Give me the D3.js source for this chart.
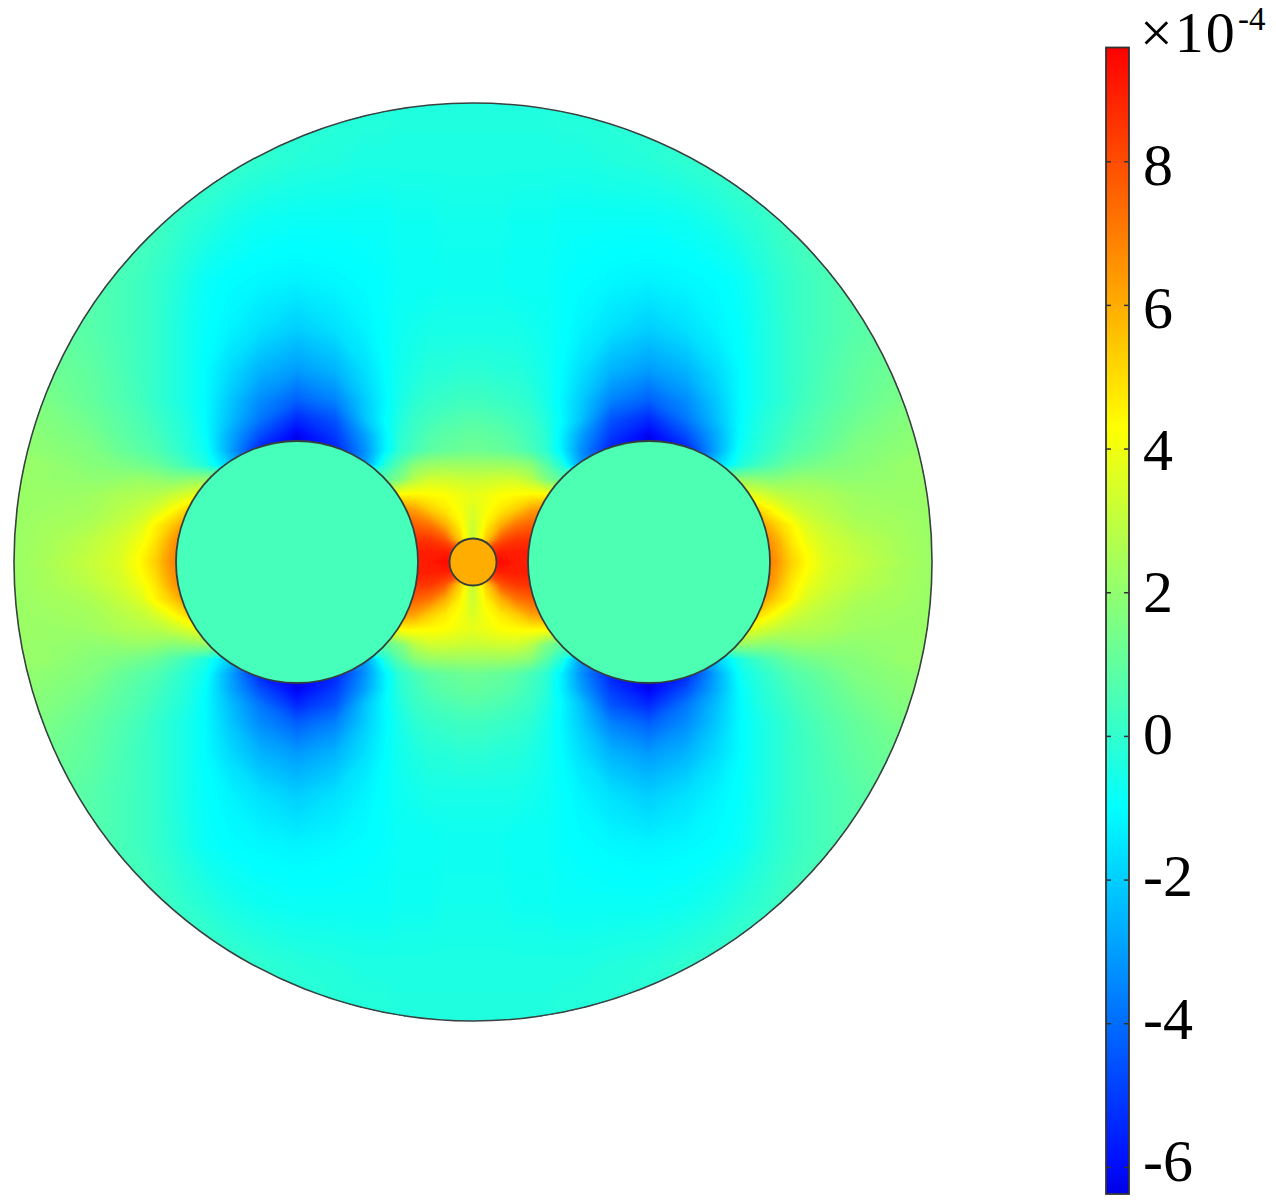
<!DOCTYPE html>
<html>
<head>
<meta charset="utf-8">
<script src="https://cdn.jsdelivr.net/npm/d3@7"></script>
<style>
  body { margin: 0; background: #fff; }
  svg { display: block; }
  text { font-family: "Liberation Serif", serif; fill: #000; }
</style>
</head>
<body>
<div id="chart"></div>
<script>
// colour legend, in units of 1e-4
const legendTicks = [-6, -4, -2, 0, 2, 4, 6, 8];
const legendRange = [-6.37, 9.59];
const colorValues = [-6.37, -5.9, -1, 1.65, 4.3, 9.59];
const colorStops = ['#0000e6', '#0010ff', '#00ffff', '#80ff80', '#ffff00', '#ff0000'];

// geometry in model units, origin at the centre of the big circle
const outerRadius = 459;
const conductors = [
  { cx: -176, r: 121, value: 0.45 },
  { cx: 176, r: 121, value: 0.6 },
  { cx: 0, r: 23.5, value: 6 },
];

// field: top-left quarter, mirrored for the rest
const fieldX = [-460, -423, -383, -353, -333, -318, -303, -288, -268, -243, -213, -176, -138, -108, -88, -73, -58, -43, -28, -13, 0];
const fieldY = [-459, -402, -342, -282, -232, -192, -162, -142, -127, -112, -97, -82, -67, -52, -37, -22, -10, 0];
const fieldValues = [
  [1.1, 1.1, 1.0, 1.0, 0.9, 0.8, 0.7, 0.6, 0.5, 0.4, 0.2, 0.0, -0.1, -0.2, -0.2, -0.3, -0.3, -0.3, -0.3, -0.3, -0.3],
  [1.0, 1.0, 0.9, 0.8, 0.7, 0.7, 0.6, 0.5, 0.4, 0.2, 0.0, -0.2, -0.3, -0.4, -0.4, -0.4, -0.4, -0.4, -0.4, -0.4, -0.4],
  [1.0, 0.9, 0.8, 0.7, 0.5, 0.4, 0.2, 0.0, -0.2, -0.5, -0.7, -0.8, -0.8, -0.8, -0.8, -0.7, -0.7, -0.7, -0.6, -0.6, -0.6],
  [1.2, 1.0, 0.8, 0.5, 0.3, 0.1, -0.1, -0.4, -0.8, -1.0, -1.1, -1.2, -1.1, -1.0, -0.9, -0.8, -0.8, -0.8, -0.7, -0.7, -0.7],
  [1.4, 1.1, 0.8, 0.5, 0.3, 0.1, -0.2, -0.5, -0.9, -1.2, -1.6, -2.0, -1.6, -1.2, -0.9, -0.7, -0.6, -0.5, -0.5, -0.5, -0.5],
  [1.6, 1.3, 1.0, 0.6, 0.3, 0.1, -0.2, -0.5, -1.0, -1.7, -2.5, -3.0, -2.5, -1.6, -1.0, -0.6, -0.4, -0.2, -0.2, -0.1, -0.1],
  [1.8, 1.5, 1.1, 0.7, 0.4, 0.1, -0.2, -0.5, -1.0, -2.1, -3.3, -4.2, -3.5, -2.0, -1.1, -0.5, -0.1, 0.1, 0.2, 0.3, 0.3],
  [1.9, 1.7, 1.3, 0.9, 0.6, 0.3, 0.0, -0.3, -1.0, -2.3, -3.8, -5.4, -4.5, -2.2, -1.0, -0.3, 0.2, 0.4, 0.6, 0.7, 0.8],
  [2.0, 1.8, 1.5, 1.0, 0.7, 0.5, 0.1, -0.2, -0.9, -2.7, -4.6, -6.2, -5.0, -2.9, -1.2, -0.1, 0.3, 0.7, 0.9, 1.0, 1.1],
  [2.1, 1.9, 1.7, 1.2, 0.9, 0.7, 0.3, -0.1, -0.7, -2.8, -5.5, -6.3, -5.5, -3.2, -1.2, 0.0, 0.5, 0.9, 1.1, 1.2, 1.3],
  [2.2, 2.1, 1.8, 1.6, 1.4, 1.2, 0.8, 0.4, -0.3, -2.0, -5.0, -6.3, -5.0, -3.0, -0.2, 0.9, 1.9, 2.2, 2.3, 2.3, 2.3],
  [2.2, 2.1, 2.0, 2.1, 2.2, 2.1, 1.9, 2.0, 2.2, 2.4, 2.0, 1.0, 1.0, 1.0, 1.0, 1.7, 2.9, 3.4, 3.4, 3.3, 3.2],
  [2.2, 2.2, 2.3, 2.6, 2.7, 2.8, 3.1, 3.5, 4.3, 4.5, 4.0, 4.0, 4.0, 4.0, 4.0, 4.5, 4.5, 4.4, 4.3, 4.0, 3.8],
  [2.2, 2.3, 2.4, 2.8, 3.1, 3.5, 4.2, 5.0, 5.6, 6.0, 7.0, 7.0, 7.0, 7.0, 7.0, 6.6, 6.3, 5.4, 4.8, 4.2, 3.5],
  [2.2, 2.4, 2.6, 3.1, 3.6, 4.5, 5.3, 6.4, 6.8, 7.5, 8.0, 8.0, 8.0, 8.0, 8.0, 7.8, 7.6, 7.2, 6.0, 4.6, 3.2],
  [2.2, 2.5, 2.9, 3.4, 4.0, 4.8, 6.1, 7.2, 7.4, 8.0, 8.5, 8.5, 8.5, 8.8, 8.8, 8.7, 8.6, 8.5, 7.9, 5.4, 3.0],
  [2.2, 2.5, 3.0, 3.5, 4.3, 5.1, 6.4, 7.3, 7.5, 8.0, 8.5, 8.5, 8.5, 9.0, 9.0, 9.0, 9.0, 9.0, 9.0, 8.4, 6.0],
  [2.2, 2.6, 3.1, 3.6, 4.4, 5.3, 6.6, 7.4, 7.5, 8.0, 8.5, 8.5, 8.5, 9.0, 9.0, 8.9, 8.9, 9.1, 9.4, 9.6, 9.6],
];

const width = 1276;
const height = 1201;

const svg = d3.select('#chart').append('svg')
  .attr('width', width)
  .attr('height', height);

const modelX = d3.scaleLinear().domain([-outerRadius, outerRadius]).range([14, 932]);
const modelY = d3.scaleLinear().domain([-outerRadius, outerRadius]).range([103, 1021]);
const color = d3.scaleLinear().domain(colorValues).range(colorStops).clamp(true);

// mirror the quarter into a full grid
const allX = fieldX.concat(fieldX.slice(0, -1).reverse().map((d) => -d));
const allY = fieldY.concat(fieldY.slice(0, -1).reverse().map((d) => -d));
const mirrorRow = (row) => row.concat(row.slice(0, -1).reverse());
const allRows = fieldValues.concat(fieldValues.slice(0, -1).reverse()).map(mirrorRow);
const grid = allRows.flat();

// grid index -> picture position (the grid is not evenly spaced)
const gridX = d3.scaleLinear().domain(d3.range(allX.length)).range(allX.map(modelX));
const gridY = d3.scaleLinear().domain(d3.range(allY.length)).range(allY.map(modelY));

const contours = d3.contours()
  .size([allX.length, allY.length])
  .thresholds(d3.range(-6.4, 9.7, 0.05))(grid);

const projection = d3.geoTransform({
  point(x, y) {
    // contour coordinates put grid point i at i + 0.5
    this.stream.point(gridX(x - 0.5), gridY(y - 0.5));
  },
});
const contourPath = d3.geoPath(projection);

svg.append('defs').append('clipPath').attr('id', 'domain-clip')
  .append('circle')
  .attr('cx', modelX(0))
  .attr('cy', modelY(0))
  .attr('r', modelX(outerRadius) - modelX(0));

const field = svg.append('g').attr('clip-path', 'url(#domain-clip)');

field.selectAll('path')
  .data(contours)
  .join('path')
  .attr('d', contourPath)
  .attr('fill', (d) => color(d.value));

// conductors have their own flat colour
svg.append('g').selectAll('circle')
  .data(conductors)
  .join('circle')
  .attr('cx', (d) => modelX(d.cx))
  .attr('cy', modelY(0))
  .attr('r', (d) => modelX(d.r) - modelX(0))
  .attr('fill', (d) => color(d.value))
  .attr('stroke', '#33403c')
  .attr('stroke-width', 1.8);

svg.append('circle')
  .attr('cx', modelX(0))
  .attr('cy', modelY(0))
  .attr('r', modelX(outerRadius) - modelX(0))
  .attr('fill', 'none')
  .attr('stroke', '#3a4240')
  .attr('stroke-width', 1.6);

// colour legend
const legend = { x: 1106, width: 23, top: 47.5, bottom: 1194 };
const legendY = d3.scaleLinear().domain(legendRange).range([legend.bottom, legend.top]);
// the labels run on a slightly tighter spacing than the tick marks
const labelY = d3.scaleLinear().domain([-6, 8]).range([1160, 164.5]);

const gradient = svg.select('defs').append('linearGradient')
  .attr('id', 'legend-gradient')
  .attr('x1', 0).attr('x2', 0).attr('y1', 1).attr('y2', 0);

gradient.selectAll('stop')
  .data(colorValues)
  .join('stop')
  .attr('offset', (d) => (d - legendRange[0]) / (legendRange[1] - legendRange[0]))
  .attr('stop-color', (d) => color(d));

svg.append('rect')
  .attr('x', legend.x)
  .attr('y', legend.top)
  .attr('width', legend.width)
  .attr('height', legend.bottom - legend.top)
  .attr('fill', 'url(#legend-gradient)')
  .attr('stroke', '#333')
  .attr('stroke-width', 1.8);

const legendAxis = svg.append('g')
  .attr('transform', `translate(${legend.x + legend.width},0)`)
  .call(d3.axisRight(labelY).tickValues(legendTicks).tickFormat((d) => String(d)).tickSize(0).tickPadding(14));

legendAxis.select('.domain').remove();
legendAxis.selectAll('text')
  .attr('font-size', 60)
  .attr('font-family', '"Liberation Serif", serif')
  .attr('fill', '#000')
  .attr('dy', '0.34em');

// small tick marks sit inside the bar, on both edges
const tickMarks = svg.append('g').attr('stroke', '#333').attr('stroke-width', 1.5);
legendTicks.forEach((t) => {
  tickMarks.append('line')
    .attr('x1', legend.x).attr('x2', legend.x + 5)
    .attr('y1', legendY(t)).attr('y2', legendY(t));
  tickMarks.append('line')
    .attr('x1', legend.x + legend.width - 5).attr('x2', legend.x + legend.width)
    .attr('y1', legendY(t)).attr('y2', legendY(t));
});

svg.append('text')
  .attr('x', 1140)
  .attr('y', 52)
  .attr('font-size', 58)
  .attr('letter-spacing', 2)
  .text('×10');

svg.append('text')
  .attr('x', 1238)
  .attr('y', 30)
  .attr('font-size', 33)
  .text('-4');
</script>
</body>
</html>
